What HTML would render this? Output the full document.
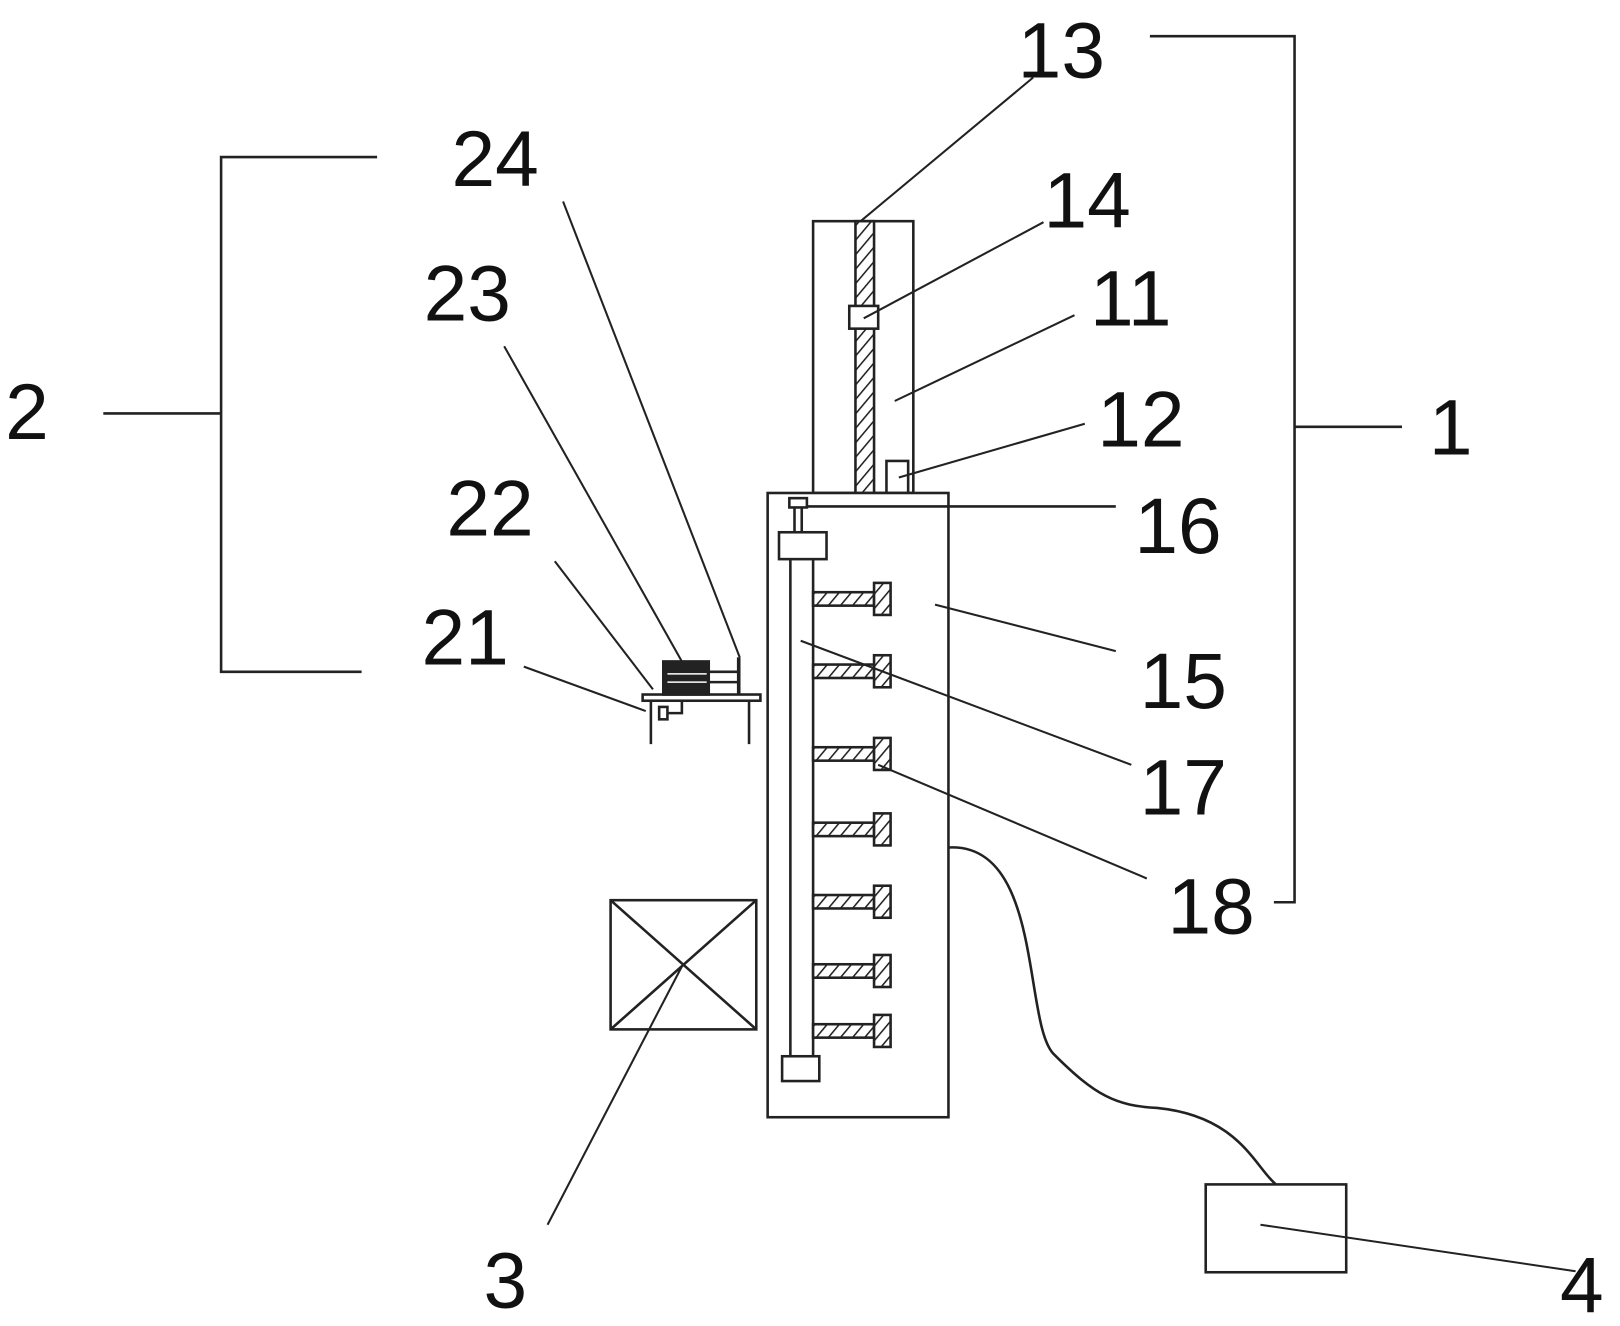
<!DOCTYPE html>
<html><head><meta charset="utf-8"><style>
html,body{margin:0;padding:0;background:#fff;}
svg{display:block;}
text{font-family:"Liberation Sans",sans-serif;font-size:76px;fill:#111;}
</style></head><body>
<svg width="1620" height="1326" viewBox="0 0 1568 1283" preserveAspectRatio="none" xmlns="http://www.w3.org/2000/svg">
<defs>
<pattern id="h" width="9" height="9" patternUnits="userSpaceOnUse" patternTransform="rotate(40)">
<rect width="9" height="9" fill="#fff"/><line x1="0" y1="0" x2="0" y2="9" stroke="#222" stroke-width="3"/>
</pattern>
</defs>
<g fill="none" stroke="#222" stroke-width="2.5">
<polyline points="1113,35 1253,35 1253,873 1233,873"/>
<line x1="1253" y1="413" x2="1357" y2="413"/>
<polyline points="365,152 214,152 214,650 350,650"/>
<line x1="100" y1="400" x2="214" y2="400"/>
<rect x="787" y="214" width="97" height="263"/>
<rect x="828" y="214" width="18" height="263" fill="url(#h)"/>
<rect x="822" y="296" width="28" height="22" fill="#fff"/>
<rect x="858" y="446" width="21" height="31" fill="#fff"/>
<rect x="743" y="477" width="175" height="604" fill="#fff"/>
<line x1="781" y1="490" x2="1080" y2="490"/>
<rect x="764" y="482" width="17" height="9" fill="#fff"/>
<line x1="769" y1="491" x2="769" y2="515"/><line x1="776" y1="491" x2="776" y2="515"/>
<rect x="754" y="515" width="46" height="26" fill="#fff"/>
<line x1="765" y1="541" x2="765" y2="1022"/><line x1="787" y1="541" x2="787" y2="1022"/>
<rect x="757" y="1022" width="36" height="24" fill="#fff"/>
<g id="b"><rect x="787" y="573" width="59" height="13" fill="url(#h)"/><rect x="846" y="564" width="16" height="31" fill="url(#h)"/></g>
<use href="#b" y="70"/><use href="#b" y="150"/><use href="#b" y="223"/><use href="#b" y="293"/><use href="#b" y="360"/><use href="#b" y="418"/>
<rect x="622" y="672" width="114" height="6" fill="#fff"/>
<line x1="630" y1="678" x2="630" y2="720"/><line x1="725" y1="678" x2="725" y2="720"/>
<rect x="642" y="640" width="44" height="32" fill="#222"/>
<line x1="646" y1="652" x2="684" y2="652" stroke="#fff" stroke-width="1.5"/>
<line x1="646" y1="660" x2="684" y2="660" stroke="#fff" stroke-width="1.5"/>
<line x1="686" y1="650" x2="715" y2="650"/><line x1="686" y1="660" x2="715" y2="660"/>
<line x1="715" y1="636" x2="715" y2="672" stroke-width="3.5"/>
<rect x="638" y="684" width="8" height="12" fill="#fff"/>
<polyline points="646,690 660,690 660,678"/>
<rect x="591" y="871" width="141" height="125"/>
<line x1="591" y1="871" x2="732" y2="996"/><line x1="732" y1="871" x2="591" y2="996"/>
<rect x="1167" y="1146" width="136" height="85"/>
<path d="M918,820 C1010,815 990,990 1020,1020 C1060,1060 1080,1070 1120,1072 C1200,1080 1215,1130 1235,1146"/>
</g>
<g stroke="#222" stroke-width="2">
<line x1="1000" y1="75" x2="833" y2="214"/>
<line x1="1010" y1="215" x2="836" y2="308"/>
<line x1="1040" y1="305" x2="866" y2="388"/>
<line x1="1050" y1="410" x2="870" y2="462"/>
<line x1="1080" y1="630" x2="905" y2="585"/>
<line x1="1095" y1="740" x2="775" y2="620"/>
<line x1="1110" y1="850" x2="850" y2="740"/>
<line x1="545" y1="195" x2="716" y2="636"/>
<line x1="488" y1="335" x2="660" y2="640"/>
<line x1="537" y1="543" x2="632" y2="667"/>
<line x1="507" y1="645" x2="625" y2="688"/>
<line x1="530" y1="1185" x2="660" y2="935"/>
<line x1="1525" y1="1230" x2="1220" y2="1185"/>
</g>
<text x="985" y="75">13</text>
<text x="1010" y="220">14</text>
<text x="1055" y="315">11</text>
<text x="1062" y="432">12</text>
<text x="1098" y="535">16</text>
<text x="1103" y="685">15</text>
<text x="1103" y="788">17</text>
<text x="1130" y="903">18</text>
<text x="1383" y="440">1</text>
<text x="5" y="425">2</text>
<text x="437" y="180">24</text>
<text x="410" y="310">23</text>
<text x="432" y="518">22</text>
<text x="408" y="643">21</text>
<text x="468" y="1265">3</text>
<text x="1510" y="1270">4</text>
</svg>
</body></html>
